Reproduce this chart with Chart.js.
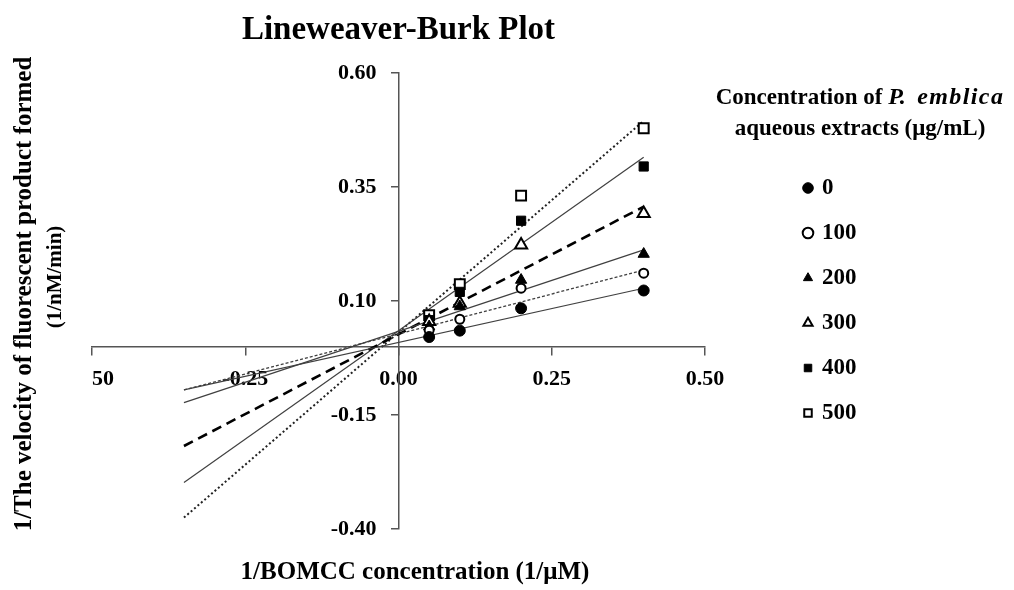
<!DOCTYPE html>
<html><head><meta charset="utf-8">
<script src="https://cdn.jsdelivr.net/npm/chart.js@4.4.0/dist/chart.umd.min.js"></script>
<style>
html,body{margin:0;padding:0;background:#fff;}
#wrap{position:relative;width:1014px;height:590px;}
#legendTitle{position:absolute;left:700px;width:320px;top:81px;text-align:center;font:bold 23px/31px "Liberation Serif",serif;color:#000;white-space:nowrap;}
#legendTitle i{font-size:24px;}
#legendTitle i.sp{letter-spacing:1.4px;}
</style></head>
<body><div id="wrap"><canvas id="c" width="1014" height="590"></canvas>
<div id="legendTitle">Concentration of <i>P.</i>&nbsp; <i class="sp">emblica</i><br>aqueous extracts (μg/mL)</div></div>
<script>
// ---- data ----
const substrateX = [0.05, 0.10, 0.20, 0.40];
const concentrations = ['0', '100', '200', '300', '400', '500'];
const v0   = [0.021, 0.035, 0.084, 0.123];
const v100 = [0.036, 0.060, 0.128, 0.161];
const v200 = [0.044, 0.088, 0.146, 0.203];
const v300 = [0.055, 0.095, 0.223, 0.292];
const v400 = [0.058, 0.120, 0.276, 0.395];
const v500 = [0.069, 0.137, 0.331, 0.479];
const fitX   = [-0.35, 0.40];
const fit0   = [-0.095, 0.128];
const fit100 = [-0.095, 0.168];
const fit200 = [-0.123, 0.212];
const fit300 = [-0.218, 0.307];
const fit400 = [-0.298, 0.415];
const fit500 = [-0.375, 0.495];
const xTickValues = [-0.50, -0.25, 0.00, 0.25, 0.50];
const xTickLabels = ['50', '-0.25', '0.00', '0.25', '0.50'];
const yTickValues = [-0.40, -0.15, 0.10, 0.35, 0.60];
const yTickLabels = ['-0.40', '-0.15', '0.10', '0.35', '0.60'];
const chartTitle = 'Lineweaver-Burk Plot';
const xTitle = '1/BOMCC concentration (1/μM)';
const yTitleLine1 = '1/The velocity of fluorescent product formed';
const yTitleLine2 = '(1/nM/min)';

// ---- styles ----
const seriesValues = [v0, v100, v200, v300, v400, v500];
const fitValues = [fit0, fit100, fit200, fit300, fit400, fit500];
const markerStyle = [
  {style: 'circle',   radius: 5.5, fill: '#000', bw: 1},
  {style: 'circle',   radius: 4.5, fill: '#fff', bw: 2},
  {style: 'triangle', radius: 6.5, fill: '#000', bw: 1},
  {style: 'triangle', radius: 7,   fill: '#fff', bw: 2},
  {style: 'rect',     radius: 6.5, fill: '#000', bw: 1},
  {style: 'rect',     radius: 7,   fill: '#fff', bw: 2}
];
const lineStyle = [
  {color: '#404040', width: 1.2, dash: []},
  {color: '#404040', width: 1.3, dash: [3, 2]},
  {color: '#404040', width: 1.2, dash: []},
  {color: '#000',    width: 2.6, dash: [10, 6]},
  {color: '#404040', width: 1.2, dash: []},
  {color: '#222',    width: 2,   dash: [2, 2.5]}
];
const FONT = 'Liberation Serif';
Chart.defaults.font.family = FONT;
Chart.defaults.color = '#000';
const EN = '\u2002';

const datasets = [];
concentrations.forEach((c, i) => {
  const m = markerStyle[i];
  datasets.push({
    type: 'scatter', label: c, isMarker: true, order: 0,
    data: substrateX.map((x, j) => ({x: x, y: seriesValues[i][j]})),
    pointStyle: m.style, pointRadius: m.radius, pointHoverRadius: m.radius,
    pointBackgroundColor: m.fill, backgroundColor: m.fill,
    pointBorderColor: '#000', borderColor: '#000', pointBorderWidth: m.bw, borderWidth: m.bw,
    showLine: false
  });
});
concentrations.forEach((c, i) => {
  const l = lineStyle[i];
  datasets.push({
    type: 'line', label: 'fit ' + c, order: 1,
    data: fitX.map((x, j) => ({x: x, y: fitValues[i][j]})),
    borderColor: l.color, borderWidth: l.width, borderDash: l.dash,
    pointRadius: 0, fill: false, tension: 0
  });
});

const axisColor = '#555';
const shiftPlugin = {
  id: 'shiftTitles',
  afterLayout(chart) {
    const s = chart.scales;
    s.xt.left += 16.5; s.xt.right += 16.5;
    s.yt.top -= 7; s.yt.bottom -= 7;
    s.yt2.top -= 24; s.yt2.bottom -= 24;
  }
};
const blankAxis = {
  type: 'linear', min: 0, max: 1,
  ticks: {display: false}, grid: {display: false, drawTicks: false}, border: {display: false}
};

new Chart(document.getElementById('c'), {
  data: {datasets},
  plugins: [shiftPlugin],
  options: {
    responsive: false, animation: false, devicePixelRatio: 1,
    layout: {padding: {left: 0, right: 147.5, top: 0, bottom: 0}},
    plugins: {
      tooltip: {enabled: false},
      title: {
        display: true, text: chartTitle, fullSize: false, color: '#000',
        font: {family: FONT, size: 33, weight: 'bold', lineHeight: 1.2},
        padding: {top: 11, bottom: 22.4}
      },
      legend: {
        display: true, position: 'right', align: 'start', fullSize: false,
        title: {display: true, text: ' ', font: {size: 10, lineHeight: 1}, padding: {top: 0, bottom: 71.5}},
        labels: {
          usePointStyle: true, boxWidth: 5, boxHeight: 7.5, padding: 22, color: '#000',
          font: {family: FONT, size: 23, weight: 'bold'},
          filter: (item, data) => data.datasets[item.datasetIndex].isMarker === true
        }
      }
    },
    scales: {
      x: {
        type: 'linear', position: {y: 0}, min: -0.5, max: 0.5,
        afterBuildTicks: (axis) => { axis.ticks = xTickValues.map(v => ({value: v})); },
        ticks: {
          autoSkip: false, maxRotation: 0, padding: 12, color: '#000',
          font: {family: FONT, size: 22, weight: 'bold'},
          callback: (value, index) => (index === 0 ? EN + EN : '') + xTickLabels[index]
        },
        grid: {display: true, drawOnChartArea: false, drawTicks: true, tickLength: 8, color: axisColor, lineWidth: 1.5},
        border: {display: true, color: axisColor, width: 1.5}
      },
      y: {
        type: 'linear', position: {x: 0}, min: -0.4, max: 0.6,
        afterBuildTicks: (axis) => { axis.ticks = yTickValues.map(v => ({value: v})); },
        ticks: {
          autoSkip: false, padding: 14, color: '#000',
          font: {family: FONT, size: 22, weight: 'bold'},
          callback: (value, index) => yTickLabels[index] + EN + EN
        },
        grid: {display: true, drawOnChartArea: false, drawTicks: true, tickLength: 7, color: axisColor, lineWidth: 1.5},
        border: {display: true, color: axisColor, width: 1.5}
      },
      yt: Object.assign({}, blankAxis, {
        position: 'left', weight: 2,
        title: {display: true, text: yTitleLine1, color: '#000',
          font: {family: FONT, size: 25, weight: 'bold', lineHeight: 1.2}, padding: {top: 10, bottom: 0}},
        afterFit: (s) => { s.width = 40; }
      }),
      yt2: Object.assign({}, blankAxis, {
        position: 'left', weight: 1,
        title: {display: true, text: yTitleLine2, color: '#000',
          font: {family: FONT, size: 21, weight: 'bold', lineHeight: 1.2}, padding: {top: 3, bottom: 0}},
        afterFit: (s) => { s.width = 52; }
      }),
      xt: Object.assign({}, blankAxis, {
        position: 'bottom',
        title: {display: true, text: xTitle, color: '#000',
          font: {family: FONT, size: 25, weight: 'bold', lineHeight: 1.2}, padding: {top: 0, bottom: 2}},
        afterFit: (s) => { s.height = 61; }
      }),
      yr: Object.assign({}, blankAxis, {
        position: 'right',
        afterFit: (s) => { s.width = 78.5; }
      })
    }
  }
});
</script>
</body></html>
